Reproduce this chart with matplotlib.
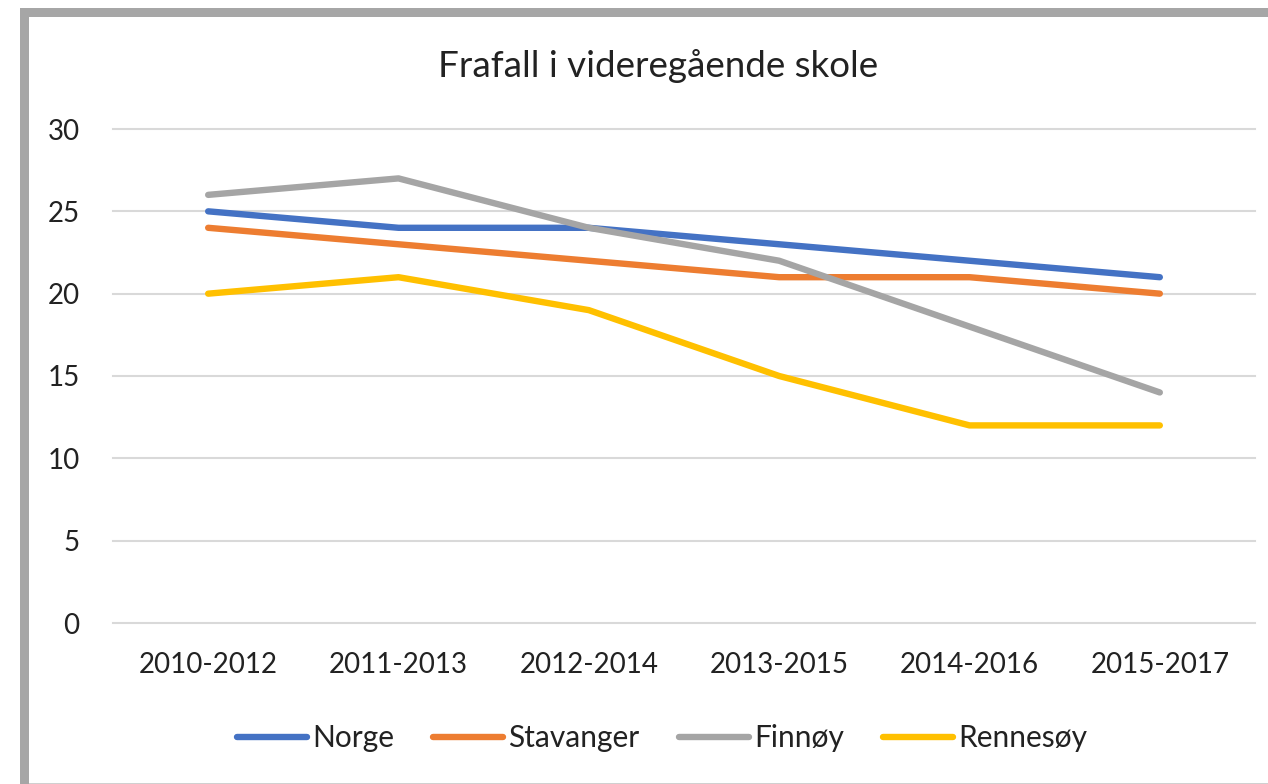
import matplotlib
matplotlib.use("Agg")
import matplotlib.pyplot as plt
from matplotlib.patches import Rectangle

categories = ["2010-2012", "2011-2013", "2012-2014", "2013-2015", "2014-2016", "2015-2017"]
norge = [25, 24, 24, 23, 22, 21]
stavanger = [24, 23, 22, 21, 21, 20]
finnoy = [26, 27, 24, 22, 18, 14]
rennesoy = [20, 21, 19, 15, 12, 12]
series_names = ["Norge", "Stavanger", "Finnøy", "Rennesøy"]
colors = ["#4472C4", "#ED7D31", "#A5A5A5", "#FFC000"]
yticks = [0, 5, 10, 15, 20, 25, 30]

plt.rcParams['font.family'] = ['Lato', 'DejaVu Sans']

W, H = 1268, 784
fig = plt.figure(figsize=(W / 100, H / 100), dpi=100)
fig.patch.set_facecolor("white")

# frame
fig.add_artist(Rectangle((20 / W, 0), 1.0, 1 - 8 / H, transform=fig.transFigure,
                         facecolor="#A6A6A6", edgecolor="none", zorder=-10))
fig.add_artist(Rectangle((29 / W, 1 / H), 1.0, 1 - 17 / H - 1 / H, transform=fig.transFigure,
                         facecolor="white", edgecolor="none", zorder=-9))
fig.add_artist(Rectangle((29 / W, 0), 1.0, 1 / H, transform=fig.transFigure,
                         facecolor="#D0D0D0", edgecolor="none", zorder=-9))

ax = fig.add_axes([113 / W, 1 - 623 / H, (1255 - 113) / W, (623 - 129) / H])
ax.set_facecolor("none")
x = list(range(len(categories)))
for vals, name, c in zip([norge, stavanger, finnoy, rennesoy], series_names, colors):
    ax.plot(x, vals, color=c, lw=4.6, label=name, solid_capstyle="round", solid_joinstyle="round", zorder=3)

ax.set_xlim(-0.5, len(categories) - 0.5)
ax.set_ylim(0, 30)
ax.set_yticks(yticks)
ax.set_xticks(x)
ax.set_xticklabels(categories)
ax.tick_params(axis="both", length=0, labelsize=20, colors="#222222")
ax.tick_params(axis="y", pad=24)
ax.tick_params(axis="x", pad=21)
ax.grid(axis="y", color="#D9D9D9", lw=1.5, zorder=0)
for g in ax.get_ygridlines():
    g.set_clip_on(False)
for s in ax.spines.values():
    s.set_visible(False)

fig.text(658 / W, 1 - 66 / H, "Frafall i videregående skole", ha="center", va="center",
         fontsize=26.5, color="#222222")

fig.legend(loc="center", bbox_to_anchor=(662 / W, 1 - 738 / H), ncol=4, frameon=False,
           fontsize=21.5, handlelength=2.35, handletextpad=0.17, columnspacing=1.3,
           labelcolor="#222222")

fig.savefig("out.png", dpi=100)
